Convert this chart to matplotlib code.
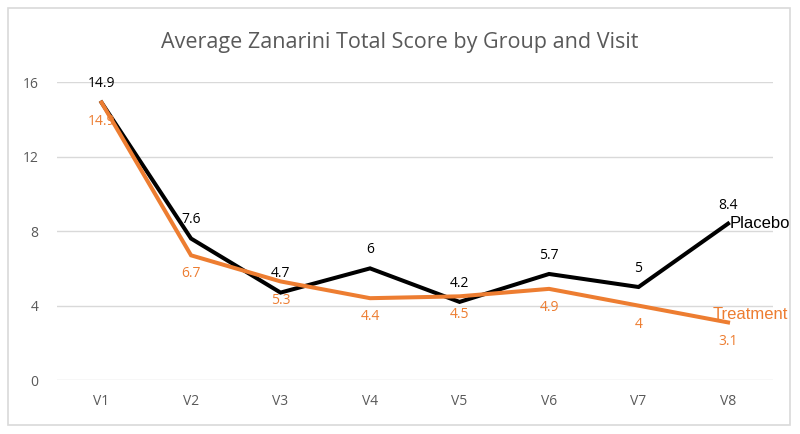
import matplotlib.pyplot as plt
from matplotlib.patches import Rectangle

# Data
visits = ["V1", "V2", "V3", "V4", "V5", "V6", "V7", "V8"]
placebo = [14.9, 7.6, 4.7, 6, 4.2, 5.7, 5, 8.4]
treatment = [14.9, 6.7, 5.3, 4.4, 4.5, 4.9, 4, 3.1]
placebo_labels = ["14.9", "7.6", "4.7", "6", "4.2", "5.7", "5", "8.4"]
treatment_labels = ["14.9", "6.7", "5.3", "4.4", "4.5", "4.9", "4", "3.1"]

orange = "#ED7D31"
grey_txt = "#595959"

plt.rcParams['font.family'] = ['Open Sans', 'DejaVu Sans']

fig = plt.figure(figsize=(8, 4.34), dpi=100)
ax = fig.add_axes([0.071, 0.124, 0.895, 0.687])

x = range(len(visits))
ax.plot(x, placebo, color="black", lw=2.9, solid_joinstyle="miter", zorder=3)
ax.plot(x, treatment, color=orange, lw=2.9, solid_joinstyle="miter", zorder=3)

# data labels
for i, (p, lab) in enumerate(zip(placebo, placebo_labels)):
    ax.annotate(lab, (i, p), xytext=(0, 8), textcoords="offset points",
                ha="center", va="bottom", fontsize=10, color="black")
for i, (t, lab) in enumerate(zip(treatment, treatment_labels)):
    ax.annotate(lab, (i, t), xytext=(0, -8), textcoords="offset points",
                ha="center", va="top", fontsize=10, color=orange)

# series names at the end of lines
ax.annotate("Placebo", (7, placebo[-1]), xytext=(1, 0), textcoords="offset points",
            ha="left", va="center", fontsize=12, color="black",
            family="Liberation Sans", annotation_clip=False)
ax.annotate("Treatment", (7, treatment[-1]), xytext=(-11, 6), textcoords="offset points",
            ha="left", va="center", fontsize=12, color=orange,
            family="Liberation Sans", annotation_clip=False)

ax.set_xlim(-0.5, 7.5)
ax.set_ylim(0, 16)
ax.set_yticks([0, 4, 8, 12, 16])
ax.set_xticks(list(x))
ax.set_xticklabels(visits)
ax.grid(axis="y", color="#D9D9D9", lw=1)
ax.set_axisbelow(True)
for s in ax.spines.values():
    s.set_visible(False)
ax.tick_params(length=0, colors=grey_txt, labelsize=10)
ax.tick_params(axis="x", pad=10)
ax.tick_params(axis="y", pad=13)

fig.text(0.5, 0.902, "Average Zanarini Total Score by Group and Visit",
         ha="center", va="center", fontsize=15.5, color=grey_txt)

# chart border, and clip anything beyond it
fig.patches.append(Rectangle((0.988, 0), 0.012, 1, transform=fig.transFigure,
                             facecolor="white", edgecolor="none", zorder=5))
fig.patches.append(Rectangle((0.01, 0.021), 0.978, 0.96, transform=fig.transFigure,
                             facecolor="none", edgecolor="#D9D9D9", lw=1.2, zorder=6))

fig.savefig("out.png", dpi=100)
